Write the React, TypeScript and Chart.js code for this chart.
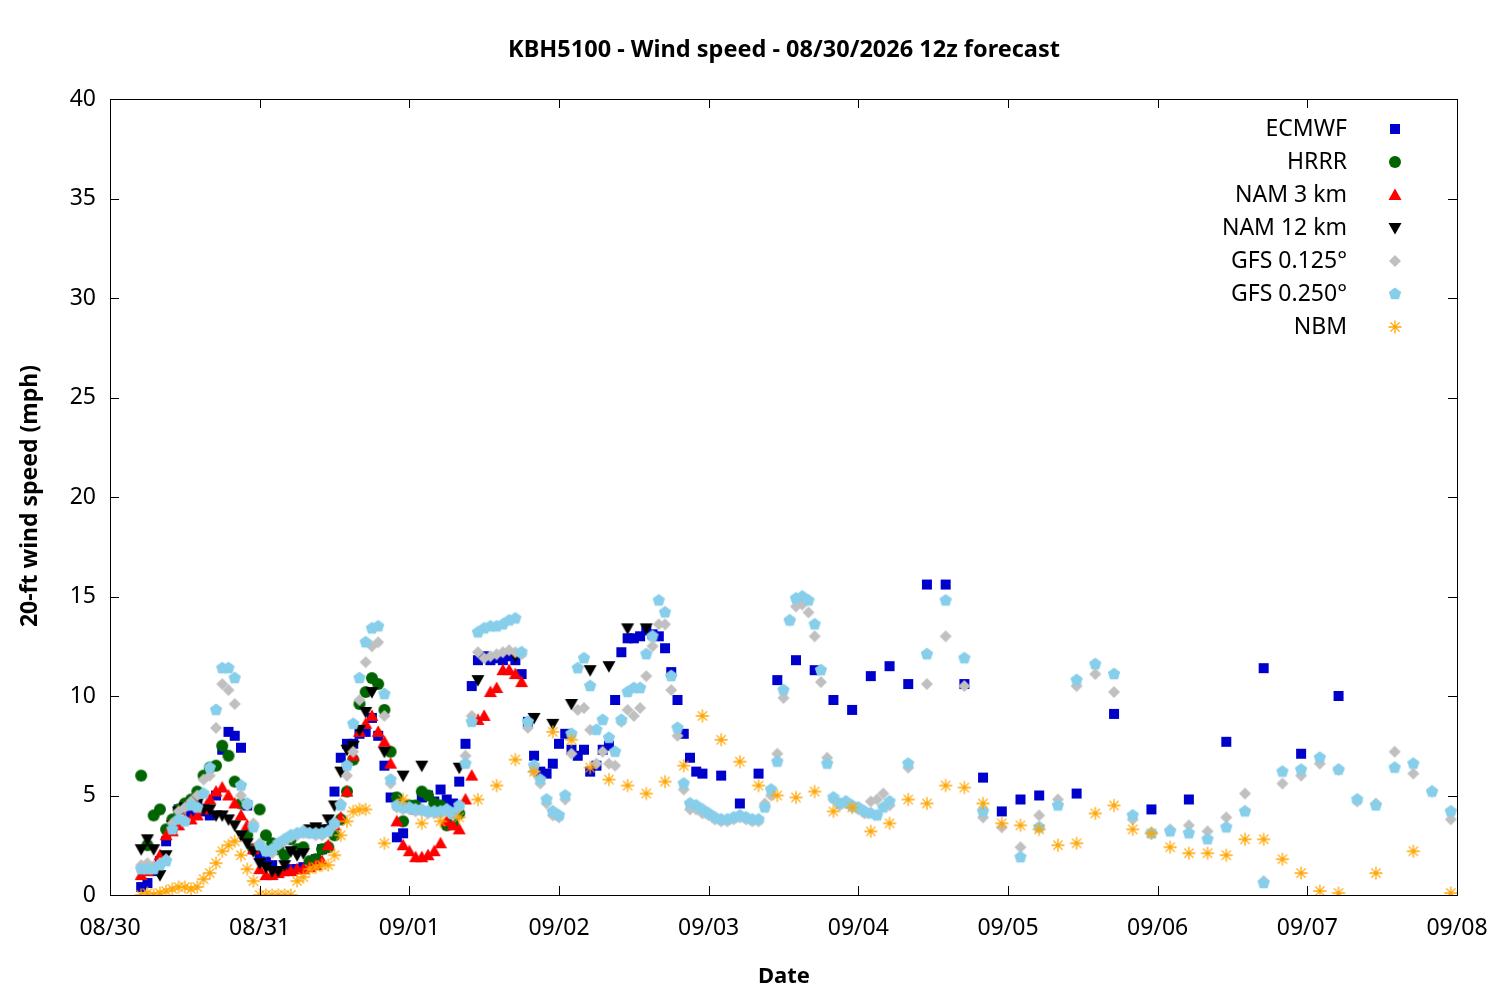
import React, { useEffect, useRef } from "react";
import { Chart, registerables } from "chart.js";
Chart.register(...registerables);

const dateLabels = ["08/30", "08/31", "09/01", "09/02", "09/03", "09/04", "09/05", "09/06", "09/07", "09/08"];

// hourly series start at forecast hour 5 (hours since 08/30 00)
const hrrrStart = 5;
const hrrrVals = [6.0,2.5,4.0,4.3,3.3,3.8,4.3,4.6,4.8,5.2,6.0,6.4,6.5,7.5,7.0,5.7,4.6,3.0,2.3,4.3,3.0,2.6,2.3,2.0,2.8,2.3,2.4,1.7,1.8,2.3,2.4,3.0,3.8,5.2,6.8,9.6,10.2,10.9,10.6,9.3,7.2,4.9,3.7,4.5,4.5,5.2,5.0,4.6,4.5,3.5,3.6,4.1];

const nam3Start = 5;
const nam3Vals = [1.0,1.2,1.4,2.0,3.0,3.2,3.5,3.8,3.8,4.0,4.3,4.8,5.2,5.4,5.0,4.6,4.0,3.5,2.3,1.3,1.0,1.0,1.1,1.2,1.2,1.3,1.3,1.4,1.5,1.7,2.5,3.5,3.9,5.2,7.0,8.2,8.6,9.0,8.2,7.7,6.6,3.7,2.5,2.2,1.9,1.9,2.0,2.2,2.6,3.7,3.5,3.3,4.8,6.0,8.8,9.0,10.2,10.4,11.3,11.3,11.1,10.7];

const nam12Start = 5;
const nam12Vals = [2.3,2.8,2.3,1.0,2.0,3.5,4.2,4.4,4.5,4.6,4.3,4.3,4.0,4.0,3.8,3.5,3.0,2.6,2.2,1.6,1.4,1.2,1.2,1.5,2.2,2.0,2.1,3.3,3.4,3.3,3.8,4.5,6.2,7.3,7.5,8.3,9.2,10.2];
const nam12LateHours = [44,47,50,56,59,65,68,71,74,77,80,83,86];
const nam12LateVals = [7.2,6.0,6.5,6.4,10.8,12.0,8.9,8.6,9.6,11.3,11.5,13.4,13.4];

const ecmwfStart = 5;
const ecmwfVals = [0.4,0.6,1.2,1.7,2.7,3.4,4.3,4.4,4.1,4.5,4.2,4.0,5.0,7.3,8.2,8.0,7.4,4.5,2.3,2.0,1.7,1.5,1.2,1.2,1.3,1.3,1.4,1.5,1.8,2.3,3.3,5.2,6.9,7.6,7.6,8.1,8.2,8.9,8.0,6.5,4.9,2.9,3.1,4.5,4.3,4.9,5.0,4.7,5.3,4.8,4.6,5.7,7.6,10.5,11.8,12.0,11.8,11.9,11.8,12.0,11.8,11.1,
  8.7,7.0,6.2,6.1,6.6,7.6,8.1,7.3,7.0,7.3,6.2,6.5,7.3,7.5,9.8,12.2,12.9,12.9,13.0,13.3,13.1,13.0,12.4,11.2,9.8,8.1,6.9,6.2,6.1];
const ecmwfLateHours = [98,101,104,107,110,113,116,119,122,125,128,131,134,137,140,143,146,149,155,161,167,173,179,185,191,197];
const ecmwfLateVals = [6.0,4.6,6.1,10.8,11.8,11.3,9.8,9.3,11.0,11.5,10.6,15.6,15.6,10.6,5.9,4.2,4.8,5.0,5.1,9.1,4.3,4.8,7.7,11.4,7.1,10.0];

const gfs25Start = 5;
const gfs25Vals = [1.3,1.3,1.3,1.5,1.7,3.3,3.8,3.7,4.5,4.4,5.1,6.4,9.3,11.4,11.4,10.9,5.5,4.6,3.4,2.5,2.2,2.3,2.6,2.8,3.0,3.1,3.2,3.1,3.1,3.1,3.2,3.6,4.5,6.5,8.6,10.9,12.7,13.4,13.5,10.1,5.8,4.5,4.4,4.4,4.3,4.3,4.2,4.2,4.2,4.3,4.1,4.5,6.6,8.7,13.2,13.4,13.5,13.5,13.6,13.8,13.9,12.2,
  8.7,6.5,5.8,4.8,4.2,4.0,5.0,8.1,11.4,11.9,10.5,8.3,8.8,7.9,7.2,8.8,10.2,10.4,10.4,12.1,13.0,14.8,14.2,11.0,8.4,5.6,4.6,4.5,4.3,4.1,3.9,3.8,3.8,3.9,4.0,3.9,3.8,3.8,4.4,5.3,6.7,10.3,13.8,14.9,15.0,14.8,13.6,11.3,6.6,4.9,4.6,4.7,4.5,4.4,4.2,4.1,4.0,4.4,4.7];
const gfs25LateHours = [128,131,134,137,140,146,149,152,155,158,161,164,167,170,173,176,179,182,185,188,191,194,197,200,203,206,209,212,215];
const gfs25LateVals = [6.6,12.1,14.8,11.9,4.2,1.9,3.4,4.5,10.8,11.6,11.1,4.0,3.1,3.2,3.1,2.8,3.4,4.2,0.6,6.2,6.3,6.9,6.3,4.8,4.5,6.4,6.6,5.2,4.2];

const gfs125Start = 5;
const gfs125Vals = [1.5,1.6,1.4,1.6,1.8,3.6,4.2,4.4,4.7,5.0,5.8,6.0,8.4,10.6,10.3,9.6,5.0,4.5,3.6,2.6,2.2,2.1,2.5,2.7,2.9,3.0,3.1,3.1,3.0,3.0,3.2,3.5,4.6,6.0,7.2,9.8,11.7,12.5,12.7,9.0,5.6,4.4,4.3,4.3,4.2,4.2,4.1,4.1,4.1,4.2,4.0,4.4,7.0,9.0,12.2,11.9,12.0,12.1,12.2,12.3,12.2,12.1,
  8.4,6.2,5.6,4.6,4.0,3.9,4.8,7.1,9.3,9.4,8.3,6.6,7.2,6.6,6.5,8.7,9.3,9.0,9.4,11.0,12.5,13.6,13.6,10.3,8.0,5.3,4.3,4.3,4.1,4.0,3.8,3.7,3.7,3.8,3.9,3.8,3.7,3.7,4.6,5.0,7.1,9.9,13.8,14.5,14.6,14.2,13.0,10.7,6.9,4.8,4.5,4.6,4.4,4.3,4.1,4.7,4.8,5.1,4.5];
const gfs125LateHours = [128,131,134,137,140,143,146,149,152,155,158,161,164,167,170,173,176,179,182,185,188,191,194,197,200,203,206,209,212,215];
const gfs125LateVals = [6.4,10.6,13.0,10.5,3.9,3.4,2.4,4.0,4.8,10.5,11.1,10.2,3.8,3.1,3.3,3.5,3.2,3.9,5.1,0.7,5.6,6.0,6.6,6.3,4.7,4.6,7.2,6.1,5.2,3.8];

const nbmStart = 5;
const nbmVals = [0.0,0.1,0.0,0.1,0.2,0.3,0.4,0.4,0.3,0.4,0.8,1.1,1.6,2.2,2.5,2.7,2.0,1.3,0.7,0.0,0.0,0.0,0.0,0.0,0.0,0.7,0.9,1.3,1.4,1.5,1.5,2.0,3.0,3.7,4.2,4.3,4.3];
const nbmLateHours = [44,47,50,53,56,59,62,65,68,71,74,77,80,83,86,89,92,95,98,101,104,107,110,113,116,119,122,125,128,131,134,137,140,143,146,149,152,155,158,161,164,167,170,173,176,179,182,185,188,191,194,197,203,209,215];
const nbmLateVals = [2.6,4.8,3.6,3.7,3.9,4.8,5.5,6.8,6.2,8.2,7.8,6.4,5.8,5.5,5.1,5.7,6.5,9.0,7.8,6.7,5.5,5.0,4.9,5.2,4.2,4.4,3.2,3.6,4.8,4.6,5.5,5.4,4.6,3.6,3.5,3.3,2.5,2.6,4.1,4.5,3.3,3.1,2.4,2.1,2.1,2.0,2.8,2.8,1.8,1.1,0.2,0.1,1.1,2.2,0.1];

function pts(start: number, vals: number[], lateH: number[] = [], lateV: number[] = []) {
  const a = vals.map((v, i) => ({ x: start + i, y: v }));
  return a.concat(lateH.map((h, i) => ({ x: h, y: lateV[i] })));
}

function marker(kind: string, color: string): HTMLCanvasElement {
  const s = 18;
  const c = document.createElement("canvas");
  c.width = s; c.height = s;
  const g = c.getContext("2d")!;
  g.fillStyle = color; g.strokeStyle = color;
  const m = s / 2;
  g.beginPath();
  if (kind === "square") g.rect(m - 5, m - 5, 10, 10);
  else if (kind === "circle") g.arc(m, m, 6, 0, Math.PI * 2);
  else if (kind === "tri") { g.moveTo(m, m - 6.5); g.lineTo(m + 6.5, m + 5); g.lineTo(m - 6.5, m + 5); }
  else if (kind === "itri") { g.moveTo(m, m + 6.5); g.lineTo(m + 6.5, m - 5); g.lineTo(m - 6.5, m - 5); }
  else if (kind === "diamond") { g.moveTo(m, m - 6); g.lineTo(m + 6, m); g.lineTo(m, m + 6); g.lineTo(m - 6, m); }
  else if (kind === "pent") {
    for (let i = 0; i < 5; i++) {
      const a = -Math.PI / 2 + (i * 2 * Math.PI) / 5;
      const x = m + 6.5 * Math.cos(a), y = m + 6.5 * Math.sin(a);
      if (i === 0) g.moveTo(x, y); else g.lineTo(x, y);
    }
  }
  if (kind === "star") {
    g.lineWidth = 1.3;
    for (let i = 0; i < 4; i++) {
      const a = (i * Math.PI) / 4;
      g.moveTo(m - 6.5 * Math.cos(a), m - 6.5 * Math.sin(a));
      g.lineTo(m + 6.5 * Math.cos(a), m + 6.5 * Math.sin(a));
    }
    g.stroke();
  } else { g.closePath(); g.fill(); }
  return c;
}

export default function App() {
  const ref = useRef<HTMLCanvasElement>(null);
  useEffect(() => {
    const series = [
      { label: "ECMWF", data: pts(ecmwfStart, ecmwfVals, ecmwfLateHours, ecmwfLateVals), img: marker("square", "#0000cc"), order: 7 },
      { label: "HRRR", data: pts(hrrrStart, hrrrVals), img: marker("circle", "#006400"), order: 6 },
      { label: "NAM 3 km", data: pts(nam3Start, nam3Vals), img: marker("tri", "#ff0000"), order: 5 },
      { label: "NAM 12 km", data: pts(nam12Start, nam12Vals, nam12LateHours, nam12LateVals), img: marker("itri", "#000000"), order: 4 },
      { label: "GFS 0.125°", data: pts(gfs125Start, gfs125Vals, gfs125LateHours, gfs125LateVals), img: marker("diamond", "#c0c0c0"), order: 3 },
      { label: "GFS 0.250°", data: pts(gfs25Start, gfs25Vals, gfs25LateHours, gfs25LateVals), img: marker("pent", "#87ceeb"), order: 2 },
      { label: "NBM", data: pts(nbmStart, nbmVals, nbmLateHours, nbmLateVals), img: marker("star", "#ffa500"), order: 1 },
    ];
    const font = "'Noto Sans', sans-serif";
    const deco = {
      id: "deco",
      afterDraw(chart: any) {
        const { ctx, chartArea: a, scales } = chart;
        ctx.save();
        ctx.strokeStyle = "#000"; ctx.lineWidth = 1;
        ctx.strokeRect(a.left + 0.5, a.top + 0.5, a.right - a.left, a.bottom - a.top);
        ctx.beginPath();
        for (let h = 0; h <= 216; h += 24) {
          const x = Math.round(scales.x.getPixelForValue(h)) + 0.5;
          ctx.moveTo(x, a.bottom); ctx.lineTo(x, a.bottom - 9);
          ctx.moveTo(x, a.top); ctx.lineTo(x, a.top + 9);
        }
        for (let v = 0; v <= 40; v += 5) {
          const y = Math.round(scales.y.getPixelForValue(v)) + 0.5;
          ctx.moveTo(a.left, y); ctx.lineTo(a.left + 9, y);
          ctx.moveTo(a.right, y); ctx.lineTo(a.right - 9, y);
        }
        ctx.stroke();
        ctx.fillStyle = "#000";
        ctx.textAlign = "center"; ctx.textBaseline = "middle";
        ctx.font = `bold 23.5px ${font}`;
        ctx.fillText("KBH5100 - Wind speed - 08/30/2026 12z forecast", 784, 50);
        ctx.font = `bold 22px ${font}`;
        ctx.fillText("Date", 784, 977);
        ctx.font = `bold 23px ${font}`;
        ctx.save(); ctx.translate(30, 496); ctx.rotate(-Math.PI / 2);
        ctx.fillText("20-ft wind speed (mph)", 0, 0); ctx.restore();
        ctx.font = `23px ${font}`;
        ctx.textAlign = "right";
        series.forEach((s, i) => {
          const y = 129 + i * 33;
          ctx.fillText(s.label, 1347, y);
          ctx.drawImage(s.img, 1395 - 9, y - 9);
        });
        ctx.restore();
      },
    };
    const chart = new Chart(ref.current!, {
      type: "scatter",
      data: {
        datasets: series.map((s) => ({
          label: s.label, data: s.data, pointStyle: s.img as any, order: s.order,
          showLine: false, backgroundColor: "transparent", borderColor: "transparent",
        })),
      },
      options: {
        responsive: false, animation: false,
        layout: { padding: { top: 99, right: 43, left: 0, bottom: 0 } },
        plugins: { legend: { display: false }, title: { display: false }, tooltip: { enabled: false } },
        scales: {
          x: {
            type: "linear", min: 0, max: 216,
            afterFit: (s: any) => { s.height = 105; s.paddingLeft = 0; s.paddingRight = 0; },
            grid: { display: false, drawTicks: false },
            border: { display: false },
            ticks: { stepSize: 24, padding: 20, color: "#000", font: { family: font, size: 23 },
              callback: (v: any) => dateLabels[Math.round(Number(v) / 24)] ?? "" },
          },
          y: {
            min: 0, max: 40,
            afterFit: (s: any) => { s.width = 110; s.paddingTop = 0; s.paddingBottom = 0; },
            grid: { display: false, drawTicks: false },
            border: { display: false },
            ticks: { stepSize: 5, padding: 14, color: "#000", font: { family: font, size: 23 } },
          },
        },
      },
      plugins: [deco],
    });
    return () => chart.destroy();
  }, []);
  return (
    <div style={{ position: "fixed", left: 0, top: 0, width: 1500, height: 1000, background: "#fff" }}>
      <canvas ref={ref} width={1500} height={1000} />
    </div>
  );
}
